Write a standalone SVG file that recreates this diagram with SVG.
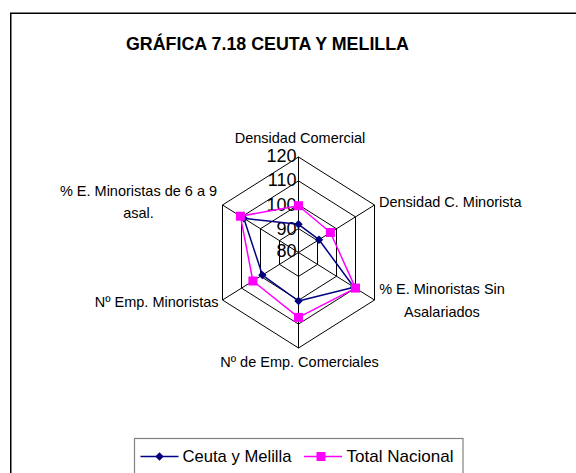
<svg xmlns="http://www.w3.org/2000/svg" xmlns:xlink="http://www.w3.org/1999/xlink" width="576" height="473" viewBox="0 0 576 473">
<style>
.lbl{font-family:"Liberation Sans",Arial,sans-serif;font-size:14.5px;fill:#000}
.tick{font-family:"Liberation Sans",Arial,sans-serif;font-size:18px;fill:#000;text-anchor:end}
.title{font-family:"Liberation Sans",Arial,sans-serif;font-size:18.5px;font-weight:bold;fill:#000}
.leg{font-family:"Liberation Sans",Arial,sans-serif;font-size:17px;fill:#000}
.grid{fill:none;stroke:#000;stroke-width:1}
.s1{fill:none;stroke:#000080;stroke-width:1.5;stroke-linejoin:round}
.s2{fill:none;stroke:#ff00ff;stroke-width:1.5;stroke-linejoin:round}
</style>
<defs>
<path id="dia" d="M0,-4.2 L4.2,0 L0,4.2 L-4.2,0 Z" fill="#000080"/>
<rect id="sq" x="-4.5" y="-4.5" width="9" height="9" fill="#ff00ff"/>
</defs>
<rect width="576" height="473" fill="#fff"/>
<rect x="10.75" y="13.25" width="580" height="480" fill="none" stroke="#000" stroke-width="1.5"/>
<text class="title" x="267.5" y="49.5" text-anchor="middle" textLength="283" lengthAdjust="spacingAndGlyphs">GRÁFICA 7.18 CEUTA Y MELILLA</text>
<g id="grid">
<polygon class="grid" points="298.5,157 374.5,205 374.5,300 298.5,348 222.5,300 222.5,205"/>
<polygon class="grid" points="298.5,180.9 355.5,216.9 355.5,288.1 298.5,324.1 241.5,288.1 241.5,216.9"/>
<polygon class="grid" points="298.5,204.75 336.5,228.75 336.5,276.25 298.5,300.25 260.5,276.25 260.5,228.75"/>
<polygon class="grid" points="298.5,228.6 317.5,240.6 317.5,264.4 298.5,276.4 279.5,264.4 279.5,240.6"/>
<path class="grid" d="M298.5,252.5 L298.5,157 M298.5,252.5 L374.5,205 M298.5,252.5 L374.5,300 M298.5,252.5 L298.5,348 M298.5,252.5 L222.5,300 M298.5,252.5 L222.5,205"/>
</g>
<g id="ticks">
<text class="tick" x="296.5" y="161.5">120</text>
<text class="tick" x="296.5" y="186.3">110</text>
<text class="tick" x="296.5" y="211.3">100</text>
<text class="tick" x="296.5" y="234.8">90</text>
<text class="tick" x="296.5" y="256.5">80</text>
</g>
<g id="axis-labels">
<text class="lbl" x="300" y="143" text-anchor="middle">Densidad Comercial</text>
<text class="lbl" x="379" y="206.5">Densidad C. Minorista</text>
<text class="lbl" x="442" y="294" text-anchor="middle">% E. Minoristas Sin</text>
<text class="lbl" x="442" y="317" text-anchor="middle">Asalariados</text>
<text class="lbl" x="299.5" y="367" text-anchor="middle">Nº de Emp. Comerciales</text>
<text class="lbl" x="218.5" y="306.5" text-anchor="end">Nº Emp. Minoristas</text>
<text class="lbl" x="138.5" y="196" text-anchor="middle">% E. Minoristas de 6 a 9</text>
<text class="lbl" x="138.5" y="217.5" text-anchor="middle">asal.</text>
</g>
<g id="series-ceuta">
<polygon class="s1" points="298.5,224.3 319,239.7 354,287.2 298.5,301 262.4,275.1 243.8,218.3"/>
<use xlink:href="#dia" x="298.5" y="224.3"/>
<use xlink:href="#dia" x="319" y="239.7"/>
<use xlink:href="#dia" x="354" y="287.2"/>
<use xlink:href="#dia" x="298.5" y="301"/>
<use xlink:href="#dia" x="262.4" y="275.1"/>
<use xlink:href="#dia" x="243.8" y="218.3"/>
</g>
<g id="series-total">
<polygon class="s2" points="298.5,205.7 330.4,232.5 355.5,288.1 298.5,317.4 252.9,281 240.4,216.2"/>
<use xlink:href="#sq" x="298.5" y="205.7"/>
<use xlink:href="#sq" x="330.4" y="232.5"/>
<use xlink:href="#sq" x="355.5" y="288.1"/>
<use xlink:href="#sq" x="298.5" y="317.4"/>
<use xlink:href="#sq" x="252.9" y="281"/>
<use xlink:href="#sq" x="240.4" y="216.2"/>
</g>
<g id="legend">
<rect x="134.5" y="438.5" width="328.5" height="50" fill="#fff" stroke="#808080" stroke-width="1.2"/>
<path class="s1" d="M140.5,456.5 H178.5"/>
<use xlink:href="#dia" x="159.5" y="456.5"/>
<text class="leg" x="182.5" y="462" textLength="109" lengthAdjust="spacingAndGlyphs">Ceuta y Melilla</text>
<path class="s2" d="M304,456.5 H342"/>
<use xlink:href="#sq" x="321" y="456.5"/>
<text class="leg" x="346.5" y="462" textLength="107" lengthAdjust="spacingAndGlyphs">Total Nacional</text>
</g>
</svg>
